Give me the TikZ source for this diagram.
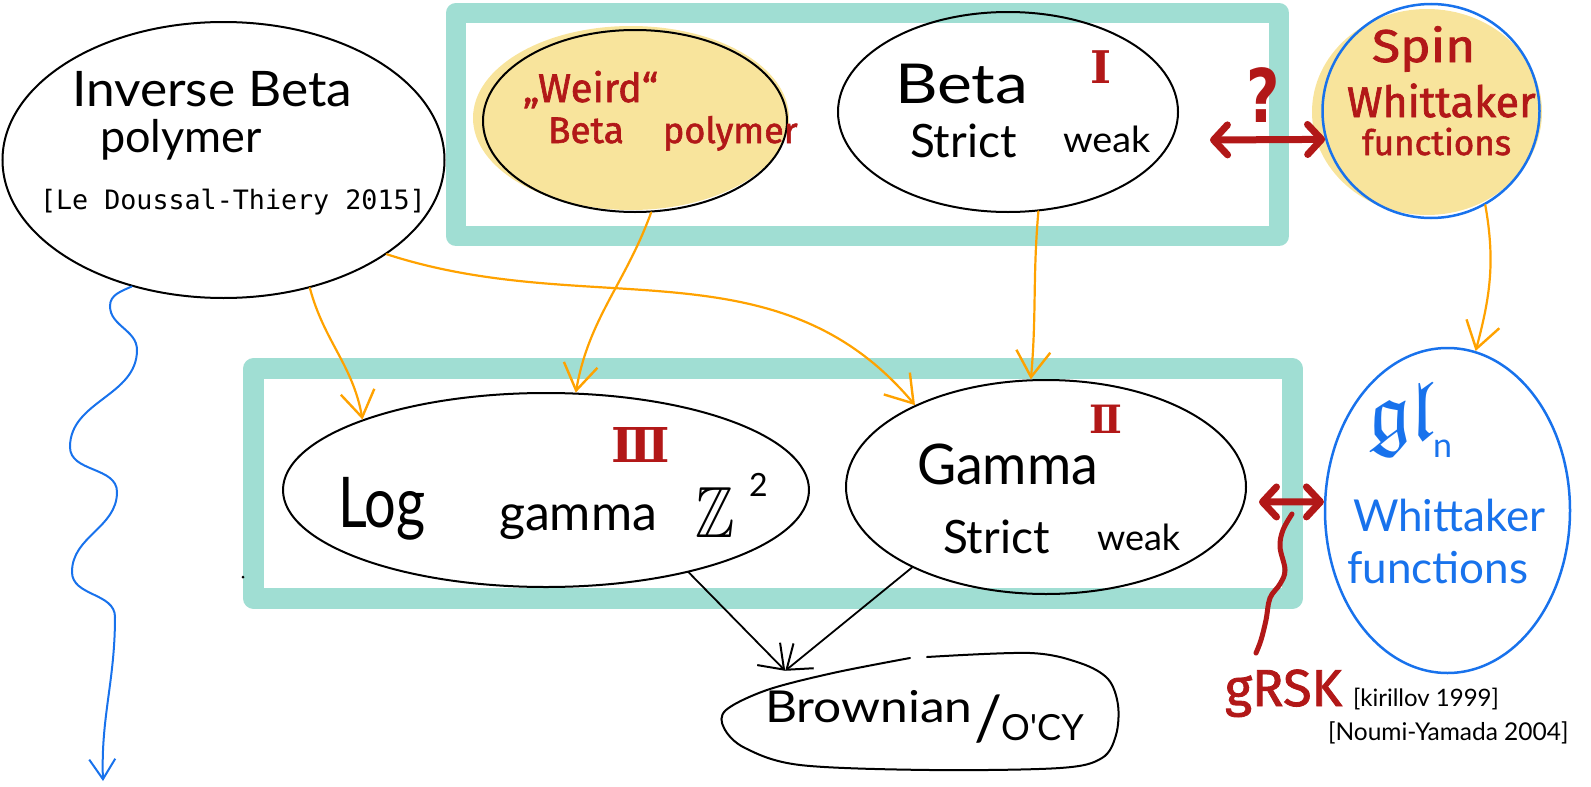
\documentclass[tikz,border=0pt]{standalone}
\usepackage{amssymb}
\usepackage{graphicx}
\usepackage{fontspec}
\setmainfont{Lato}
\newfontfamily\hand{Lato}
\newfontfamily\marker{Fira Sans}[FakeBold=1.6]
\newfontfamily\mono{DejaVu Sans Mono}
\newfontfamily\numfont{DejaVu Serif}
\newfontfamily\qfont{DejaVu Sans}
\usetikzlibrary{arrows.meta,shapes.geometric}
\newcommand\fsz[1]{\fontsize{#1}{#1}\selectfont}

\definecolor{boxteal}{RGB}{160,222,211}
\definecolor{hilite}{RGB}{248,228,156}
\definecolor{penred}{RGB}{178,24,24}
\definecolor{penorange}{RGB}{255,162,0}
\definecolor{penblue}{RGB}{24,114,236}

\tikzset{
  frame/.style={draw=boxteal, line width=20.5pt, line join=round},
  oval/.style={ellipse, draw=black, line width=2pt, inner sep=0pt},
  blueoval/.style={ellipse, draw=penblue, line width=2.5pt, inner sep=0pt},
  t/.style={inner sep=0pt, outer sep=0pt, anchor=base west},
  oarrow/.style={draw=penorange, line width=2.2pt, line cap=round,
    -{Straight Barb[length=26pt,width=34pt,line width=2.4pt]}},
  karrow/.style={draw=black, line width=1.8pt, line cap=round,
    -{Straight Barb[length=22pt,width=32pt,line width=2pt]}},
  redarrow/.style={draw=penred, line width=7pt, line cap=round,
    {Straight Barb[length=14pt,width=30pt,round]}-{Straight Barb[length=14pt,width=30pt,round]}},
  wave/.style={draw=penblue, line width=2pt, line cap=round},
}

\begin{document}
\begin{tikzpicture}[x=1pt,y=-1pt]
\useasboundingbox (0,0) rectangle (1591,787);

% the two grouping frames
\draw[frame] (456,13) rectangle (1279,236);
\draw[frame] (253.5,368.5) rectangle (1292.5,598.5);

% marker highlights
\fill[hilite] (631,118) ellipse [x radius=158, y radius=92];
\fill[hilite] (1427,112) ellipse [x radius=115, y radius=103];

% models
\node[oval, minimum width=442pt, minimum height=276pt] (ib) at (223.5,160) {};
\node[oval, minimum width=304pt, minimum height=182pt] (wb) at (635,121) {};
\node[oval, minimum width=340pt, minimum height=200pt] (bt) at (1008,112) {};
\node[blueoval, minimum width=217pt, minimum height=214pt] (sw) at (1431,111) {};
\node[oval, minimum width=526pt, minimum height=194pt] (lg) at (546,490) {};
\node[oval, minimum width=400pt, minimum height=214pt] (gm) at (1046,487) {};
\node[blueoval, minimum width=245pt, minimum height=325pt] (gl) at (1447.5,510.5) {};
\node[ellipse, inner sep=0pt, minimum width=396pt, minimum height=112pt] (br) at (920,712) {};

% hand-drawn outline of the Brownian loop
\draw[line width=2pt, line cap=round] plot[smooth, tension=0.55] coordinates {
  (910,658) (833,673) (767,690) (726,710) (724,728) (745,748) (800,765)
  (930,770) (1060,768) (1102,758) (1116,735) (1118,705) (1108,679)
  (1080,663) (1030,653) (927,657)};

% orange degenerations
\draw[oarrow] (ib.-56) to[out=-75,in=100] (lg.159);
\draw[oarrow] (ib.-30) to[out=-18,in=130] (gm.148);
\draw[oarrow] (wb.-80) to[out=-110,in=80] (lg.73);
\draw[oarrow] (bt.-73) to[out=-95,in=85] (gm.98);
\draw[oarrow] (sw.-60) to[out=-80,in=75] (gl.80);

% black limits to the Brownian model
\draw[karrow] (lg.-30) -- (br.163);
\draw[karrow] (gm.211) -- (br.163);

% blue wavy arrow out of the inverse Beta polymer
\coordinate (wend) at (103,781);
\draw[wave, -{Straight Barb[length=20pt,width=26pt,line width=2pt]}]
  (ib.-126) to[out=205,in=90] (110,306) to[out=-90,in=90] (137,350)
  to[out=-90,in=90] (70,447) to[out=-90,in=90] (117,492)
  to[out=-90,in=90] (72,572) to[out=-90,in=90] (115,617)
  to[out=-90,in=92] (wend);

% red correspondences
\coordinate (qL) at (1210,140);
\draw[redarrow] (qL) -- (sw.195);
\coordinate (rL) at (1259,502);
\draw[redarrow] (rL) -- (gl.176);
\coordinate (sqtop) at (1292,514);
\coordinate (sqend) at (1256,653);
\draw[draw=penred, line width=5pt, line cap=round] plot[smooth, tension=0.6] coordinates {
  (sqtop) (1283,530) (1280,547) (1285,570) (1280,584) (1270,598) (1266,620) (1261,640) (sqend)};

% labels
\node[t, font={\hand\fsz{49}}] (tib1) at (72,106) {\scalebox{1.05}[1]{Inverse Beta}};
\node[t, font={\hand\fsz{45}}] (tib2) at (100,152) {polymer};
\node[t, font={\mono\fsz{26.7}}] (tib3) at (40,209) {[Le Doussal-Thiery 2015]};

\node[t, font={\marker\fsz{40}}, text=penred] (twb1) at (523,102) {„Weird“};
\node[t, font={\marker\fsz{37}}, text=penred] (twb2) at (548,143) {Beta};
\node[t, font={\marker\fsz{36}}, text=penred] (twb3) at (663,143) {polymer};

\node[t, font={\hand\fsz{55}}] (tbt1) at (895,103) {\scalebox{1.2}[1]{Beta}};
\node[t, font={\hand\fsz{46}}] (tbt2) at (910,157) {Strict};
\node[t, font={\hand\fsz{36}}] (tbt3) at (1063,152) {\scalebox{1.05}[1]{weak}};
\node[t, font={\numfont\bfseries\fsz{45}}, text=penred] (nI) at (1090,83) {Ⅰ};

\node[t, font={\qfont\bfseries\fsz{74}}, text=penred] (qm) at (1246,122) {\scalebox{0.78}[1]{?}};

\node[t, font={\marker\fsz{46}}, text=penred] (tsw1) at (1372,62) {\scalebox{1.12}[1]{Spin}};
\node[t, font={\marker\fsz{43}}, text=penred] (tsw2) at (1347,117) {Whittaker};
\node[t, font={\marker\fsz{35}}, text=penred] (tsw3) at (1362,155) {functions};

\node[t, font={\hand\fsz{70}}] (tlg1) at (338,527) {\scalebox{0.8}[1]{Log}};
\node[t, font={\hand\fsz{50}}] (tlg2) at (499,530) {gamma};
\node[t] (tlg3) at (695,537) {\scalebox{5.9}[7.25]{$\mathbb{Z}$}};
\node[t, font={\hand\fsz{32}}] (tlg4) at (749,496) {2};
\node[t, font={\numfont\bfseries\fsz{48}}, text=penred] (nIII) at (611,462) {Ⅲ};

\node[t, font={\hand\fsz{56}}] (tgm1) at (917,484) {\scalebox{0.96}[1]{Gamma}};
\node[t, font={\hand\fsz{46}}] (tgm2) at (943,553) {Strict};
\node[t, font={\hand\fsz{36}}] (tgm3) at (1097,550) {weak};
\node[t, font={\numfont\bfseries\fsz{39}}, text=penred] (nII) at (1089,433) {Ⅱ};

\node[t, text=penblue] (tgl1) at (1368,440) {\scalebox{8.5}{$\mathfrak{gl}$}};
\node[t, font={\hand\fsz{34}}, text=penblue] (tgl2) at (1433,457) {n};
\node[t, font={\hand\fsz{44}}, text=penblue] (tgl3) at (1353,531) {Whittaker};
\node[t, font={\hand\fsz{44}}, text=penblue] (tgl4) at (1347,583) {functions};

\node[t, font={\marker\fsz{52}}, text=penred] (grsk) at (1225,706) {gRSK};
\node[t, font={\hand\fsz{24}}] (ref1) at (1353,706) {[kirillov 1999]};
\node[t, font={\hand\fsz{24.5}}] (ref2) at (1328,740) {[Noumi-Yamada 2004]};

\node[t, font={\hand\fsz{44}}] (tbr1) at (765,722) {\scalebox{1.13}[1]{Brownian}};
\node[t, font={\hand\fsz{36}}] (tbr2) at (974,740) {{\fsz{62}/}\kern-1pt O'CY};

\fill (243,577) circle (1.5);
\end{tikzpicture}
\end{document}
